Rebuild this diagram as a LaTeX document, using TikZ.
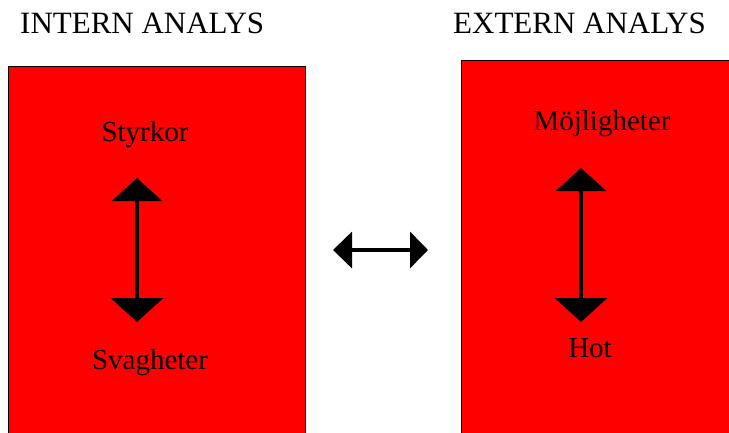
\documentclass[tikz,border=0pt]{standalone}
\usepackage{fontspec}
\setmainfont{Liberation Serif}
\usetikzlibrary{arrows.meta}
\definecolor{boxred}{HTML}{FF0000}
\tikzset{
  panel/.style={draw=black, line width=1pt, fill=boxred, inner sep=0pt, outer sep=0pt},
  heading/.style={anchor=base west, inner sep=0pt, font=\fontsize{31}{36}\selectfont},
  label/.style={anchor=base, inner sep=0pt, font=\fontsize{29}{34}\selectfont},
  dblv/.style={line width=3.5pt, {Triangle[length=23pt,width=50pt]}-{Triangle[length=24pt,width=52pt]}},
  dblh/.style={line width=3.5pt, {Triangle[length=19pt,width=36pt]}-{Triangle[length=18pt,width=36pt]}}
}
\begin{document}
\begin{tikzpicture}[x=1pt,y=-1pt]
\useasboundingbox (0,0) rectangle (729,432);
\clip (0,0) rectangle (729,432);
\fill[white] (0,0) rectangle (729,432);
% panels
\node[panel, minimum width=297pt, minimum height=374pt] (lp) at (156.5,253) {};
\node[panel, minimum width=279pt, minimum height=380pt] (rp) at (600.5,250) {};
% headings
\node[heading] (hi) at (20,33) {INTERN ANALYS};
\node[heading] (he) at (453,33) {EXTERN ANALYS};
% labels
\node[label] (s) at (145,141) {Styrkor};
\node[label] (w) at (150,369) {Svagheter};
\node[label] (o) at (602,130) {Möjligheter};
\node[label] (t) at (590,357) {Hot};
% arrow ends
\coordinate (la) at (137,178);
\coordinate (lb) at (137,322);
\coordinate (ra) at (581,168);
\coordinate (rb) at (581,322);
\coordinate (ha) at (333,250);
\coordinate (hb) at (428,250);
\draw[dblv] (la) -- (lb);
\draw[dblv] (ra) -- (rb);
\draw[dblh] (ha) -- (hb);
\end{tikzpicture}
\end{document}
